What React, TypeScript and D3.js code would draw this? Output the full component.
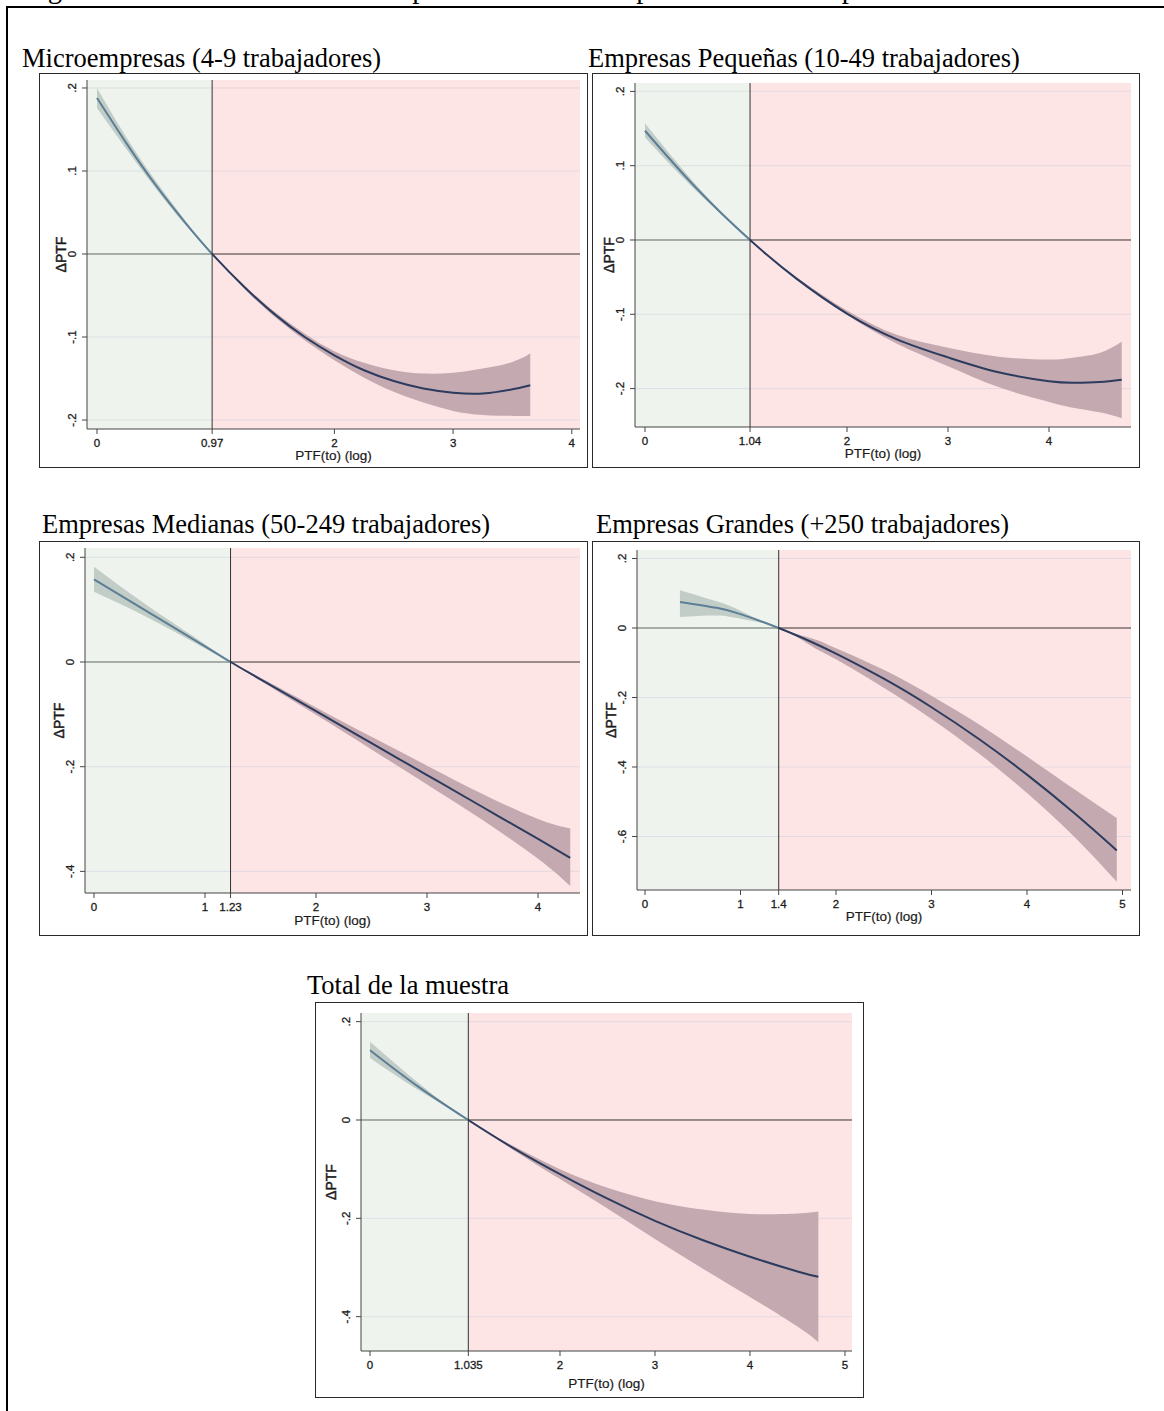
import React from 'react';
import * as d3 from 'd3';

// ---------- Microempresas (4-9 trabajadores) ----------
const microX = [0, 0.25, 0.5, 0.75, 0.97, 1.25, 1.5, 1.75, 2, 2.25, 2.5, 2.75, 3, 3.25, 3.5, 3.65];
const microY = [0.188, 0.133, 0.082, 0.0365, 0, -0.041, -0.073, -0.1, -0.122, -0.14, -0.153, -0.162, -0.167, -0.168, -0.163, -0.158];
const microHi = [0.2, 0.14, 0.087, 0.039, 0, -0.039, -0.07, -0.096, -0.117, -0.131, -0.14, -0.144, -0.143, -0.138, -0.13, -0.12];
const microLo = [0.176, 0.126, 0.078, 0.034, 0, -0.043, -0.076, -0.104, -0.128, -0.149, -0.166, -0.179, -0.189, -0.194, -0.195, -0.195];

// ---------- Empresas Pequeñas (10-49 trabajadores) ----------
const smallX = [0, 0.5, 1.04, 1.5, 2, 2.5, 3, 3.5, 4, 4.25, 4.5, 4.72];
const smallY = [0.147, 0.071, 0, -0.052, -0.099, -0.134, -0.158, -0.178, -0.19, -0.192, -0.191, -0.188];
const smallHi = [0.157, 0.075, 0, -0.05, -0.095, -0.128, -0.145, -0.157, -0.161, -0.158, -0.152, -0.137];
const smallLo = [0.138, 0.067, 0, -0.054, -0.101, -0.14, -0.17, -0.198, -0.218, -0.226, -0.232, -0.24];

// ---------- Empresas Medianas (50-249 trabajadores) ----------
const mediumX = [0, 0.5, 1, 1.23, 1.5, 2, 2.5, 3, 3.5, 4, 4.29];
const mediumY = [0.158, 0.094, 0.03, 0, -0.033, -0.094, -0.155, -0.216, -0.277, -0.338, -0.374];
const mediumHi = [0.182, 0.105, 0.034, 0, -0.03, -0.087, -0.143, -0.198, -0.252, -0.3, -0.318];
const mediumLo = [0.134, 0.083, 0.026, 0, -0.036, -0.101, -0.167, -0.234, -0.302, -0.376, -0.428];

// ---------- Empresas Grandes (+250 trabajadores) ----------
const largeX = [0.366, 0.75, 1, 1.4, 1.75, 2, 2.5, 3, 3.5, 4, 4.5, 4.94];
const largeY = [0.075, 0.058, 0.04, 0, -0.041, -0.074, -0.146, -0.228, -0.32, -0.422, -0.534, -0.64];
const largeHi = [0.109, 0.077, 0.05, 0, -0.03, -0.058, -0.12, -0.195, -0.278, -0.37, -0.465, -0.547];
const largeLo = [0.032, 0.036, 0.027, 0, -0.053, -0.09, -0.172, -0.262, -0.362, -0.475, -0.602, -0.73];

// ---------- Total de la muestra ----------
const totalX = [0, 0.5, 1.035, 1.5, 2, 2.5, 3, 3.5, 4, 4.5, 4.72];
const totalY = [0.142, 0.069, 0, -0.056, -0.11, -0.16, -0.205, -0.244, -0.278, -0.308, -0.319];
const totalHi = [0.159, 0.077, 0, -0.052, -0.1, -0.138, -0.165, -0.182, -0.191, -0.19, -0.186];
const totalLo = [0.126, 0.062, 0, -0.06, -0.12, -0.18, -0.242, -0.302, -0.36, -0.42, -0.452];

// ---------- Thresholds and tick values ----------
const thresholds = [0.97, 1.04, 1.23, 1.4, 1.035];
const thresholdLabels = ['0.97', '1.04', '1.23', '1.4', '1.035'];
const xTicksMicro = [0, 2, 3, 4];
const xTicksSmall = [0, 2, 3, 4];
const xTicksMedium = [0, 1, 2, 3, 4];
const xTicksLarge = [0, 1, 2, 3, 4, 5];
const xTicksTotal = [0, 2, 3, 4, 5];
const yTicksMicro = [0.2, 0.1, 0, -0.1, -0.2];
const yTicksSmall = [0.2, 0.1, 0, -0.1, -0.2];
const yTicksMedium = [0.2, 0, -0.2, -0.4];
const yTicksLarge = [0.2, 0, -0.2, -0.4, -0.6];
const yTicksTotal = [0.2, 0, -0.2, -0.4];

const titles = [
  'Microempresas (4-9 trabajadores)',
  'Empresas Pequeñas (10-49 trabajadores)',
  'Empresas Medianas (50-249 trabajadores)',
  'Empresas Grandes (+250 trabajadores)',
  'Total de la muestra',
];
const caption = 'Figura 3. Efectos umbral sobre la productividad total por tamaño de empresa';
const xTitle = 'PTF(to) (log)';
const yTitle = 'ΔPTF';

interface Layout {
  titleX: number;
  titleY: number;
  frame: [number, number, number, number];
  plot: [number, number, number, number];
  xDomain: [number, number];
  yDomain: [number, number];
  yTitleDx: number;
  xTitleDy: number;
}

const layouts: Layout[] = [
  { titleX: 22, titleY: 67, frame: [39, 73, 548, 394], plot: [87, 80, 580, 429], xDomain: [-0.0842, 4.069], yDomain: [-0.2108, 0.2096], yTitleDx: 21, xTitleDy: 31 },
  { titleX: 588, titleY: 67, frame: [592, 73, 547, 394], plot: [635, 83, 1131, 427], xDomain: [-0.099, 4.812], yDomain: [-0.2517, 0.2113], yTitleDx: 21, xTitleDy: 31 },
  { titleX: 42, titleY: 533, frame: [39, 541, 548, 394], plot: [85, 548, 580, 893], xDomain: [-0.081, 4.378], yDomain: [-0.4413, 0.2178], yTitleDx: 21, xTitleDy: 32 },
  { titleX: 596, titleY: 533, frame: [592, 541, 547, 394], plot: [637, 550, 1131, 890], xDomain: [-0.0838, 5.089], yDomain: [-0.754, 0.2245], yTitleDx: 21, xTitleDy: 31 },
  { titleX: 307, titleY: 994, frame: [315, 1002, 548, 395], plot: [361, 1013, 852, 1351], xDomain: [-0.0947, 5.074], yDomain: [-0.4698, 0.2176], yTitleDx: 25, xTitleDy: 37 },
];

const series = [
  { xs: microX, ys: microY, hi: microHi, lo: microLo, xTicks: xTicksMicro, yTicks: yTicksMicro },
  { xs: smallX, ys: smallY, hi: smallHi, lo: smallLo, xTicks: xTicksSmall, yTicks: yTicksSmall },
  { xs: mediumX, ys: mediumY, hi: mediumHi, lo: mediumLo, xTicks: xTicksMedium, yTicks: yTicksMedium },
  { xs: largeX, ys: largeY, hi: largeHi, lo: largeLo, xTicks: xTicksLarge, yTicks: yTicksLarge },
  { xs: totalX, ys: totalY, hi: totalHi, lo: totalLo, xTicks: xTicksTotal, yTicks: yTicksTotal },
];

const SANS = '"Liberation Sans", Arial, Helvetica, sans-serif';
const SERIF = '"Liberation Serif", "Times New Roman", Times, serif';

const GREEN_BG = '#eef3ee';
const PINK_BG = '#fde4e5';
const GREEN_BAND = '#c3cdc8';
const PINK_BAND = '#c4aab0';
const GREEN_LINE = '#5c7f96';
const PINK_LINE = '#2c3b5e';
const INK = '#1a1a1a';

// Stata-style tick labels: ".2", "-.4", "0"
const fmtY = (v: number) => {
  if (Math.abs(v) < 1e-9) return '0';
  const s = String(Math.abs(+v.toFixed(3))).replace(/^0/, '');
  return (v < 0 ? '-' : '') + s;
};

type Pt = { x: number; y: number; lo: number; hi: number };

function Panel({ idx }: { idx: number }) {
  const L = layouts[idx];
  const S = series[idx];
  const [px0, py0, px1, py1] = L.plot;
  const x = d3.scaleLinear().domain(L.xDomain).range([px0, px1]);
  const y = d3.scaleLinear().domain(L.yDomain).range([py1, py0]);
  const thr = thresholds[idx];
  const tx = x(thr);

  const pts: Pt[] = S.xs.map((v, i) => ({ x: v, y: S.ys[i], lo: S.lo[i], hi: S.hi[i] }));
  const band = d3
    .area<Pt>()
    .x((d) => x(d.x))
    .y0((d) => y(d.lo))
    .y1((d) => y(d.hi))
    .curve(d3.curveNatural)(pts) as string;
  const fit = d3
    .line<Pt>()
    .x((d) => x(d.x))
    .y((d) => y(d.y))
    .curve(d3.curveNatural)(pts) as string;

  const greenId = `clip-green-${idx}`;
  const pinkId = `clip-pink-${idx}`;
  const y0 = y(0);

  const xTickVals = [...S.xTicks, thr].sort((a, b) => a - b);
  const xLabel = (v: number) => (v === thr ? thresholdLabels[idx] : String(v));

  const [fx, fy, fw, fh] = L.frame;
  const tickText = { fontFamily: SANS, fontSize: 11.5, fill: INK, stroke: INK, strokeWidth: 0.3 };

  return (
    <g>
      <defs>
        <clipPath id={greenId}>
          <rect x={px0} y={py0} width={tx - px0} height={py1 - py0} />
        </clipPath>
        <clipPath id={pinkId}>
          <rect x={tx} y={py0} width={px1 - tx} height={py1 - py0} />
        </clipPath>
      </defs>

      <rect x={fx + 0.5} y={fy + 0.5} width={fw} height={fh} fill="#fff" stroke="#2a2a2a" strokeWidth={1} />
      <text x={L.titleX} y={L.titleY} fontFamily={SERIF} fontSize={26.5} fill="#000">
        {titles[idx]}
      </text>

      {/* shaded regions below and above the threshold */}
      <rect x={px0} y={py0} width={tx - px0} height={py1 - py0} fill={GREEN_BG} />
      <rect x={tx} y={py0} width={px1 - tx} height={py1 - py0} fill={PINK_BG} />

      {/* horizontal grid */}
      {S.yTicks
        .filter((t) => Math.abs(t) > 1e-9)
        .map((t) => (
          <line key={`g${t}`} x1={px0} x2={px1} y1={y(t)} y2={y(t)} stroke="#c8cddc" strokeOpacity={0.45} strokeWidth={1} />
        ))}

      <g clipPath={`url(#${greenId})`}>
        <path d={band} fill={GREEN_BAND} />
        <line x1={px0} x2={px1} y1={y0} y2={y0} stroke="#5e6a60" strokeWidth={1} />
        <path d={fit} fill="none" stroke={GREEN_LINE} strokeWidth={2} />
      </g>
      <g clipPath={`url(#${pinkId})`}>
        <path d={band} fill={PINK_BAND} />
        <line x1={px0} x2={px1} y1={y0} y2={y0} stroke="#3a3333" strokeWidth={1} />
        <path d={fit} fill="none" stroke={PINK_LINE} strokeWidth={2} />
      </g>

      {/* threshold */}
      <line x1={tx} x2={tx} y1={py0} y2={py1} stroke="#333" strokeWidth={1} />

      {/* y axis */}
      <line x1={px0} x2={px0} y1={py0} y2={py1} stroke="#444" strokeWidth={1} />
      {S.yTicks.map((t) => (
        <g key={`y${t}`}>
          <line x1={px0 - 5} x2={px0} y1={y(t)} y2={y(t)} stroke="#444" strokeWidth={1} />
          <text transform={`translate(${px0 - 11},${y(t)}) rotate(-90)`} textAnchor="middle" {...tickText}>
            {fmtY(t)}
          </text>
        </g>
      ))}
      <text
        transform={`translate(${px0 - L.yTitleDx},${(py0 + py1) / 2}) rotate(-90)`}
        textAnchor="middle"
        fontFamily={SANS}
        fontSize={14}
        fill={INK}
        stroke={INK}
        strokeWidth={0.45}
      >
        {yTitle}
      </text>

      {/* x axis */}
      <line x1={px0} x2={px1} y1={py1} y2={py1} stroke="#444" strokeWidth={1} />
      {xTickVals.map((t) => (
        <g key={`x${t}`}>
          <line x1={x(t)} x2={x(t)} y1={py1} y2={py1 + 5} stroke="#444" strokeWidth={1} />
          <text x={x(t)} y={py1 + 18} textAnchor="middle" {...tickText}>
            {xLabel(t)}
          </text>
        </g>
      ))}
      <text
        x={(px0 + px1) / 2}
        y={py1 + L.xTitleDy}
        textAnchor="middle"
        fontFamily={SANS}
        fontSize={13.5}
        fill={INK}
        stroke={INK}
        strokeWidth={0.2}
      >
        {xTitle}
      </text>
    </g>
  );
}

export default function App() {
  return (
    <div style={{ position: 'absolute', left: 0, top: 0 }}>
      <svg width={1164} height={1411} viewBox="0 0 1164 1411" style={{ display: 'block', background: '#fff' }}>
        <text x={24} y={-2} fontFamily={SERIF} fontSize={28.6} fill="#000">
          {caption}
        </text>
        <rect x={7} y={7} width={1170} height={1420} fill="none" stroke="#000" strokeWidth={2} />
        {layouts.map((_, i) => (
          <Panel key={i} idx={i} />
        ))}
      </svg>
    </div>
  );
}
